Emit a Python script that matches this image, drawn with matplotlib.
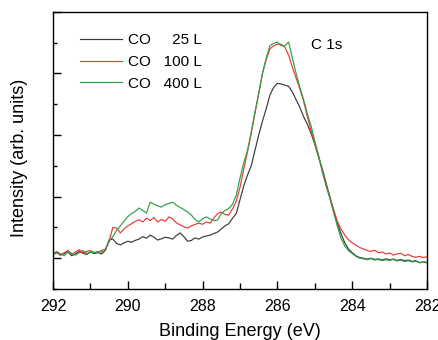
import numpy as np
import matplotlib
matplotlib.use("Agg")
import matplotlib.pyplot as plt
from matplotlib.ticker import MultipleLocator, NullFormatter

plt.rcParams['font.family'] = ['Liberation Sans', 'DejaVu Sans']

energy = np.round(np.arange(292.0, 281.95, -0.1), 1)

co25 = [1.12, 1.18, 1.10, 1.15, 1.20, 1.08, 1.14, 1.22, 1.16, 1.12, 1.20, 1.15, 1.18, 1.14, 1.25,
        1.60, 1.62, 1.48, 1.43, 1.50, 1.55, 1.52, 1.58, 1.62, 1.70, 1.65, 1.75, 1.68, 1.59, 1.63,
        1.68, 1.66, 1.62, 1.74, 1.82, 1.70, 1.55, 1.58, 1.66, 1.62, 1.69, 1.72, 1.75, 1.80, 1.85,
        1.95, 2.05, 2.12, 2.30, 2.45, 2.90, 3.35, 3.70, 4.00, 4.50, 5.00, 5.45, 5.85, 6.30, 6.55,
        6.68, 6.66, 6.62, 6.58, 6.40, 6.15, 5.90, 5.60, 5.35, 5.05, 4.70, 4.30, 3.90, 3.45, 3.00,
        2.55, 2.15, 1.80, 1.50, 1.30, 1.18, 1.08, 1.02, 1.00, 0.97, 1.00, 0.96, 0.98, 0.94, 0.98,
        0.95, 0.97, 0.93, 0.96, 0.92, 0.94, 0.90, 0.92, 0.86, 0.88, 0.85]

co100 = [1.15, 1.22, 1.10, 1.18, 1.25, 1.12, 1.20, 1.28, 1.18, 1.22, 1.25, 1.18, 1.20, 1.25, 1.30,
         1.55, 2.00, 1.98, 1.82, 1.95, 2.05, 2.12, 2.20, 2.25, 2.18, 2.30, 2.22, 2.32, 2.18, 2.26,
         2.20, 2.34, 2.28, 2.15, 2.08, 2.02, 1.98, 2.05, 2.10, 2.14, 2.10, 2.18, 2.14, 2.30, 2.45,
         2.50, 2.42, 2.40, 2.60, 2.85, 3.30, 3.90, 4.45, 5.05, 5.70, 6.35, 7.00, 7.45, 7.80, 7.90,
         7.95, 7.95, 7.85, 7.60, 7.20, 6.85, 6.50, 6.10, 5.60, 5.15, 4.70, 4.30, 3.85, 3.40, 3.00,
         2.60, 2.20, 1.95, 1.75, 1.60, 1.50, 1.42, 1.35, 1.30, 1.25, 1.22, 1.26, 1.18, 1.20, 1.14,
         1.17, 1.10, 1.14, 1.16, 1.08, 1.12, 1.06, 1.03, 1.06, 1.02, 1.05]

co400 = [1.10, 1.20, 1.15, 1.08, 1.22, 1.15, 1.10, 1.18, 1.25, 1.15, 1.20, 1.18, 1.22, 1.20, 1.25,
         1.55, 1.70, 1.90, 2.05, 2.20, 2.35, 2.45, 2.52, 2.63, 2.55, 2.47, 2.82, 2.75, 2.70, 2.66,
         2.74, 2.78, 2.82, 2.72, 2.65, 2.58, 2.50, 2.40, 2.25, 2.18, 2.28, 2.34, 2.28, 2.22, 2.24,
         2.45, 2.55, 2.62, 2.75, 3.05, 3.60, 4.10, 4.50, 5.10, 5.75, 6.35, 7.00, 7.50, 7.90, 7.98,
         8.02, 7.90, 7.90, 8.02, 7.50, 7.00, 6.56, 6.15, 5.70, 5.30, 4.80, 4.35, 3.80, 3.35, 2.95,
         2.50, 2.05, 1.65, 1.40, 1.25, 1.15, 1.06, 1.00, 0.98, 0.95, 0.99, 0.94, 0.96, 0.92, 0.95,
         0.93, 0.96, 0.91, 0.94, 0.89, 0.92, 0.88, 0.90, 0.85, 0.88, 0.87]

labels = ["CO     25 L", "CO   100 L", "CO   400 L"]
colors = ["#3a3a3a", "#e8383a", "#2f9e46"]

fig = plt.figure(figsize=(4.39, 3.40), dpi=100)
ax = fig.add_axes([0.1207, 0.15, 0.852, 0.815])

for y, lab, c in zip([co25, co100, co400], labels, colors):
    ax.plot(energy, y, color=c, lw=0.85, label=lab)

ax.set_xlim(292, 282)
ax.set_ylim(0, 9)
ax.xaxis.set_major_locator(MultipleLocator(2))
ax.xaxis.set_minor_locator(MultipleLocator(1))
ax.yaxis.set_major_locator(MultipleLocator(2, offset=1))
ax.yaxis.set_minor_locator(MultipleLocator(1))
ax.yaxis.set_major_formatter(NullFormatter())
ax.tick_params(axis='both', which='both', direction='in', top=False, right=False)
ax.tick_params(axis='x', which='major', length=6, width=1, labelsize=11.5, pad=7)
ax.tick_params(axis='x', which='minor', length=4, width=1)
ax.tick_params(axis='y', which='major', length=6, width=1)
ax.tick_params(axis='y', which='minor', length=3, width=1)
for s in ax.spines.values():
    s.set_linewidth(1.0)

ax.set_xlabel("Binding Energy (eV)", fontsize=13, labelpad=7)
ax.set_ylabel("Intensity (arb. units)", fontsize=13)
ax.yaxis.set_label_coords(-0.068, 0.475)

leg = ax.legend(loc='upper left', bbox_to_anchor=(0.056, 0.945), frameon=False,
                fontsize=11, handlelength=2.75, handletextpad=0.4, labelspacing=0.5,
                borderaxespad=0)
ax.text(0.69, 0.881, "C 1s", transform=ax.transAxes, fontsize=11, va='center')

fig.savefig("out.png", dpi=100)
